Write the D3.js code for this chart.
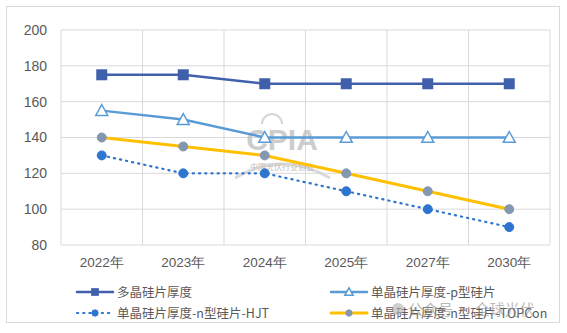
<!DOCTYPE html>
<html><head><meta charset="utf-8">
<script src="https://cdn.jsdelivr.net/npm/d3@7"></script>
<style>body{margin:0;background:#fff;}svg{display:block;font-family:"Noto Sans CJK SC","Noto Sans",sans-serif;}</style>
</head><body>
<svg id="c" width="567" height="333"></svg>
<script>
const categories = ["2022年","2023年","2024年","2025年","2027年","2030年"];
const polySi = [175,175,170,170,170,170];
const monoP = [155,150,140,140,140,140];
const monoHJT = [130,120,120,110,100,90];
const monoTOPCon = [140,135,130,120,110,100];
const yTicks = [80,100,120,140,160,180,200];
const seriesNames = ["多晶硅片厚度","单晶硅片厚度-p型硅片","单晶硅片厚度-n型硅片-HJT","单晶硅片厚度-n型硅片-TOPCon"];

const svg = d3.select("#c");
svg.append("rect").attr("x",6.5).attr("y",6.5).attr("width",553).attr("height",316)
  .attr("fill","#fff").attr("stroke","#d9d9d9");

const L=61,R=550,T=30,B=245;
const x = d3.scaleBand().domain(categories).range([L,R]);
const y = d3.scaleLinear().domain([80,200]).range([B,T]);

// grid
const g = svg.append("g");
g.selectAll(".hg").data(yTicks).join("line")
  .attr("x1",L).attr("x2",R).attr("y1",d=>y(d)).attr("y2",d=>y(d))
  .attr("stroke","#d9d9d9").attr("stroke-width",1);
const vb = categories.map(c=>x(c)).concat([R]);
g.selectAll(".vg").data(vb).join("line")
  .attr("x1",d=>d).attr("x2",d=>d).attr("y1",T).attr("y2",B)
  .attr("stroke","#d9d9d9").attr("stroke-width",1);

// y axis
const ya = svg.append("g").attr("transform",`translate(${L-14},0)`)
  .call(d3.axisLeft(y).tickValues(yTicks).tickSize(0).tickPadding(0));
ya.select(".domain").remove();
ya.selectAll("text").attr("font-size",14).attr("fill","#595959");

// x axis
const xa = svg.append("g").attr("transform",`translate(0,${B+8})`)
  .call(d3.axisBottom(x).tickSize(0).tickPadding(4));
xa.select(".domain").remove();
xa.selectAll("text").attr("font-size",13.5).attr("fill","#595959");

// watermark CPIA
const wm = svg.append("g").attr("opacity",0.75);
wm.append("path").attr("d","M262,124 A10,10 0 0 1 282,124").attr("fill","none").attr("stroke","#c8c8c8").attr("stroke-width",2);
wm.append("path").attr("d","M235,178 Q282,150 330,178").attr("fill","none").attr("stroke","#cfcfcf").attr("stroke-width",3);
wm.append("text").attr("x",282).attr("y",150).attr("text-anchor","middle")
  .attr("font-size",30).attr("font-weight","bold").attr("fill","#bdbdbd")
  .attr("font-family","Liberation Sans, sans-serif").text("CPIA");
wm.append("text").attr("x",282).attr("y",170).attr("text-anchor","middle")
  .attr("font-size",8).attr("fill","#a9a9a9").text("中国光伏行业协会");

const cx = c => x(c)+x.bandwidth()/2;
const line = d3.line().x((d,i)=>cx(categories[i])).y(d=>y(d));

const series = [
  {data:monoTOPCon, color:"#FFC000", w:3, dash:null, marker:"circle", mfill:"#8497B0", mstroke:"#8497B0", r:4.5},
  {data:monoHJT, color:"#2E75D0", w:2.2, dash:"1.2,5", marker:"circle", mfill:"#2E75D0", mstroke:"#2E75D0", r:4.5},
  {data:monoP, color:"#5B9BD5", w:2.5, dash:null, marker:"tri", mfill:"#fff", mstroke:"#5B9BD5"},
  {data:polySi, color:"#4160AB", w:2.5, dash:null, marker:"sq", mfill:"#4160AB", mstroke:"#4160AB"}
];

function drawMarker(sel, s, px, py, scale){
  scale = scale||1;
  if(s.marker==="circle"){
    sel.append("circle").attr("cx",px).attr("cy",py).attr("r",s.r*scale).attr("fill",s.mfill).attr("stroke",s.mstroke);
  } else if(s.marker==="sq"){
    const h=5.5*scale;
    sel.append("rect").attr("x",px-h).attr("y",py-h).attr("width",2*h).attr("height",2*h).attr("fill",s.mfill);
  } else {
    const h=6*scale;
    sel.append("path").attr("d",`M${px},${py-h}L${px+h},${py+h*0.8}L${px-h},${py+h*0.8}Z`)
      .attr("fill",s.mfill).attr("stroke",s.mstroke).attr("stroke-width",1.5);
  }
}

series.forEach(s=>{
  const p = svg.append("path").attr("d",line(s.data)).attr("fill","none")
    .attr("stroke",s.color).attr("stroke-width",s.w).attr("stroke-linecap","round");
  if(s.dash) p.attr("stroke-dasharray",s.dash);
  const mg = svg.append("g");
  s.data.forEach((v,i)=>drawMarker(mg,s,cx(categories[i]),y(v)));
});

// legend
const legendOrder = [series[3],series[2],series[1],series[0]];
const legPos = [[77,292],[331,292],[77,313],[331,313]];
legendOrder.forEach((s,i)=>{
  const [lx,ly]=legPos[i];
  const lg = svg.append("g");
  const p = lg.append("line").attr("x1",lx).attr("x2",lx+36).attr("y1",ly).attr("y2",ly)
    .attr("stroke",s.color).attr("stroke-width",s.w).attr("stroke-linecap","round");
  if(s.dash) p.attr("stroke-dasharray",s.dash);
  drawMarker(lg,s,lx+18,ly,0.7);
  lg.append("text").attr("x",lx+40).attr("y",ly+4.5).attr("font-size",12.5).attr("fill","#595959").text(seriesNames[i]);
});

// WeChat watermark (as in the reference, lower right)
const wc = svg.append("g").attr("opacity",0.6);
wc.append("circle").attr("cx",398).attr("cy",309).attr("r",6).attr("fill","#b0b0b0");
wc.append("text").attr("x",408).attr("y",315).attr("font-size",15).attr("fill","#8a8a8a")
  .text("公众号 · 全球光伏");
</script>
</body></html>
